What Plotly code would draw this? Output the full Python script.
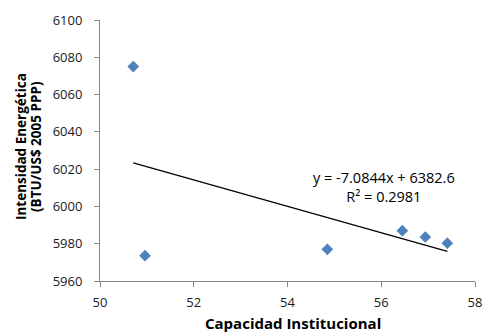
import numpy as np
import plotly.graph_objects as go

capacidad = [50.71, 50.96, 54.85, 56.45, 56.94, 57.41]
intensidad = [6075.0, 5973.6, 5977.0, 5987.0, 5983.6, 5980.3]
x_ticks = [50, 52, 54, 56, 58]
y_ticks = [5960, 5980, 6000, 6020, 6040, 6060, 6080, 6100]
eq_text = "y = -7.0844x + 6382.6<br>R² = 0.2981"
y_title = ["Intensidad Energética", "(BTU/US$ 2005 PPP)"]
x_title = "Capacidad Institucional"

slope, intercept = -7.0844, 6382.6
tx = [min(capacidad), max(capacidad)]
ty = [slope * v + intercept for v in tx]

W, H = 484, 336
L, R, T, B = 100, 475, 20, 281
pw, ph = R - L, B - T

font = "Open Sans, Liberation Sans, Arial, sans-serif"
fig = go.Figure()
fig.add_trace(go.Scatter(x=tx, y=ty, mode="lines",
                         line=dict(color="black", width=1.2), showlegend=False))
fig.add_trace(go.Scatter(x=capacidad, y=intensidad, mode="markers",
                         marker=dict(symbol="diamond", size=9, color="#4F81BD",
                                     line=dict(width=0)), showlegend=False))
fig.add_annotation(x=56.05, y=6010.4, text=eq_text, showarrow=False,
                   font=dict(family=font, size=14.5, color="black"), align="center")
fig.add_annotation(xref="paper", yref="paper", x=(293 - L) / pw, y=-(335 - B) / ph,
                   text="<b>" + x_title + "</b>", showarrow=False,
                   font=dict(family=font, size=15, color="black"),
                   xanchor="center", yanchor="bottom")
for cx, txt in zip([21, 36], y_title):
    fig.add_annotation(xref="paper", yref="paper", x=-(L - cx) / pw, y=(B - 147) / ph,
                       text="<b>" + txt + "</b>", showarrow=False,
                       textangle=-90, font=dict(family=font, size=13.5, color="black"),
                       xanchor="center", yanchor="middle")
fig.update_layout(
    width=W, height=H,
    margin=dict(l=L, r=W - R, t=T, b=H - B),
    paper_bgcolor="white", plot_bgcolor="white",
    font=dict(family=font, size=13, color="#1a1a1a"),
    xaxis=dict(range=[50, 58], tickvals=x_ticks, showgrid=False, zeroline=False,
               showline=True, linecolor="#868686", linewidth=1, automargin=False,
               ticks="outside", ticklen=5, tickcolor="#868686", ticklabelstandoff=4),
    yaxis=dict(range=[5960, 6100], tickvals=y_ticks, showgrid=False, zeroline=False,
               showline=True, linecolor="#868686", linewidth=1, automargin=False,
               ticks="outside", ticklen=5, tickcolor="#868686", ticklabelstandoff=9),
)
fig.write_html("out.html", config={"displayModeBar": False},
               post_script="document.body.style.margin='0';document.body.style.overflow='hidden';")
